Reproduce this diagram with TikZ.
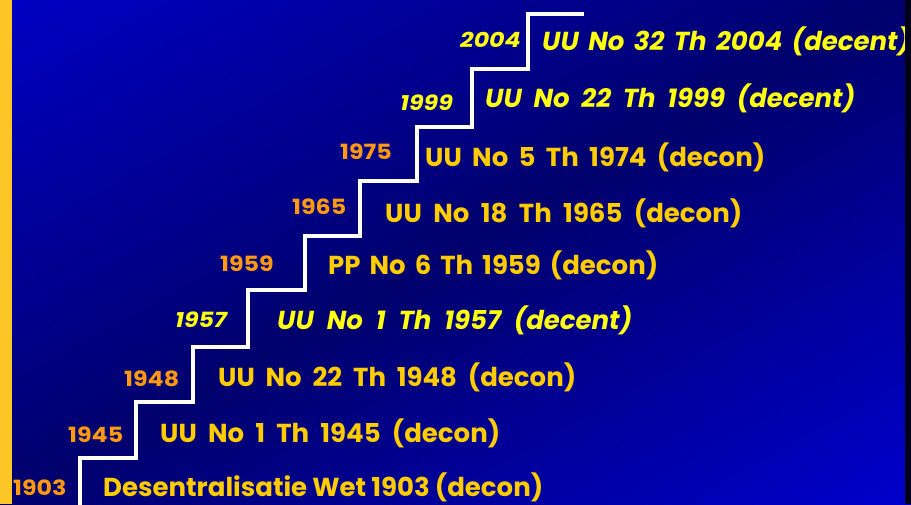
\documentclass[tikz,border=0pt]{standalone}
\usepackage{fontspec}
\setmainfont{Poppins}
\definecolor{gold}{HTML}{FFCC00}
\definecolor{orangeyr}{HTML}{FF9A10}
\definecolor{brightyel}{HTML}{FFFF10}
\definecolor{stripe}{HTML}{FCC626}
\definecolor{bgbright}{RGB}{0,0,196}
\definecolor{bgdark}{RGB}{0,0,108}
\definecolor{bgbright2}{RGB}{0,0,204}
\newcommand\lawtxt[2]{\makebox[#1][s]{#2}}
\newcommand\yrtxt[1]{\scalebox{1.13}[1]{#1}}
\begin{document}
\begin{tikzpicture}[x=1pt,y=-1pt,
  law/.style={anchor=base west,inner sep=0pt,font=\fontsize{26}{28}\selectfont\bfseries,text=gold},
  lawit/.style={law,font=\fontsize{26}{28}\selectfont\bfseries\itshape,text=brightyel},
  yr/.style={anchor=base west,inner sep=0pt,font=\fontsize{21}{24}\selectfont\bfseries,text=orangeyr},
  yrit/.style={yr,font=\fontsize{21}{24}\selectfont\bfseries\itshape,text=brightyel},
  stair/.style={draw=white,line width=4pt,miter limit=10}]
\useasboundingbox (0,0) rectangle (911,504);
% diagonal background gradient: bright top-left, dark along the anti-diagonal, bright bottom-right
\begin{scope}
\clip (0,0) rectangle (911,504);
\foreach \i in {0,...,104} {
  \pgfmathsetmacro\sa{\i/50 - 0.05}
  \pgfmathsetmacro\sb{\sa + 0.021}
  \pgfmathsetmacro\sm{\sa + 0.01}
  \ifdim\sm pt<1pt
    \pgfmathsetmacro\pc{max(0,min(100,(1-\sm)*100))}
    \colorlet{bandc}{bgbright!\pc!bgdark}
  \else
    \pgfmathsetmacro\pc{max(0,min(100,(\sm-1)*100))}
    \colorlet{bandc}{bgbright2!\pc!bgdark}
  \fi
  \fill[bandc] ({911*\sa+18.1},-10) -- ({911*\sb+18.1},-10) -- ({911*\sb-929.1},514) -- ({911*\sa-929.1},514) -- cycle;
}
\end{scope}
\fill[stripe] (0,0) rectangle (12,504);
% staircase
\coordinate (s0) at (80,506);
\draw[stair] (s0) -- (80,457.5) -- (136,457.5) -- (136,401.7) -- (193,401.7) -- (193,347) -- (248.3,347) -- (248.3,289.5) -- (304.5,289.5) -- (304.5,235.7) -- (360,235.7) -- (360,181) -- (416.5,181) -- (416.5,126.7) -- (471.7,126.7) -- (471.7,68.7) -- (528,68.7) -- (528,14.3) -- (584,14.3);
% years
\node[yr] (y1903) at (13,495) {\yrtxt{1903}};
\node[yr] (y1945) at (68,442) {\yrtxt{1945}};
\node[yr] (y1948) at (124,386) {\yrtxt{1948}};
\node[yrit] (y1957) at (175,327) {\yrtxt{1957}};
\node[yr] (y1959) at (220,271) {\yrtxt{1959}};
\node[yr] (y1965) at (292,214) {\yrtxt{1965}};
\node[yr] (y1975) at (340,159) {\yrtxt{1975}};
\node[yrit] (y1999) at (400,110) {\yrtxt{1999}};
\node[yrit] (y2004) at (460,47) {\yrtxt{2004}};
% laws
\node[law] (l1903) at (103,496) {\lawtxt{440pt}{Desentralisatie Wet 1903 (decon)}};
\node[law] (l1945) at (160,442) {\lawtxt{340pt}{UU No 1 Th 1945 (decon)}};
\node[law] (l1948) at (218,386) {\lawtxt{358pt}{UU No 22 Th 1948 (decon)}};
\node[lawit] (l1957) at (277,329) {\lawtxt{355pt}{UU No 1 Th 1957 (decent)}};
\node[law] (l1959) at (328,274) {\lawtxt{330pt}{PP No 6 Th 1959 (decon)}};
\node[law] (l1965) at (385,222) {\lawtxt{357pt}{UU No 18 Th 1965 (decon)}};
\node[law] (l1974) at (425,166) {\lawtxt{340pt}{UU No 5 Th 1974 (decon)}};
\node[lawit] (l1999) at (485,107) {\lawtxt{370pt}{UU No 22 Th 1999 (decent)}};
\node[lawit] (l2004) at (542,50) {\lawtxt{368pt}{UU No 32 Th 2004 (decent)}};
\fill[black!90!blue] (905,0) rectangle (911,504);
\end{tikzpicture}
\end{document}
